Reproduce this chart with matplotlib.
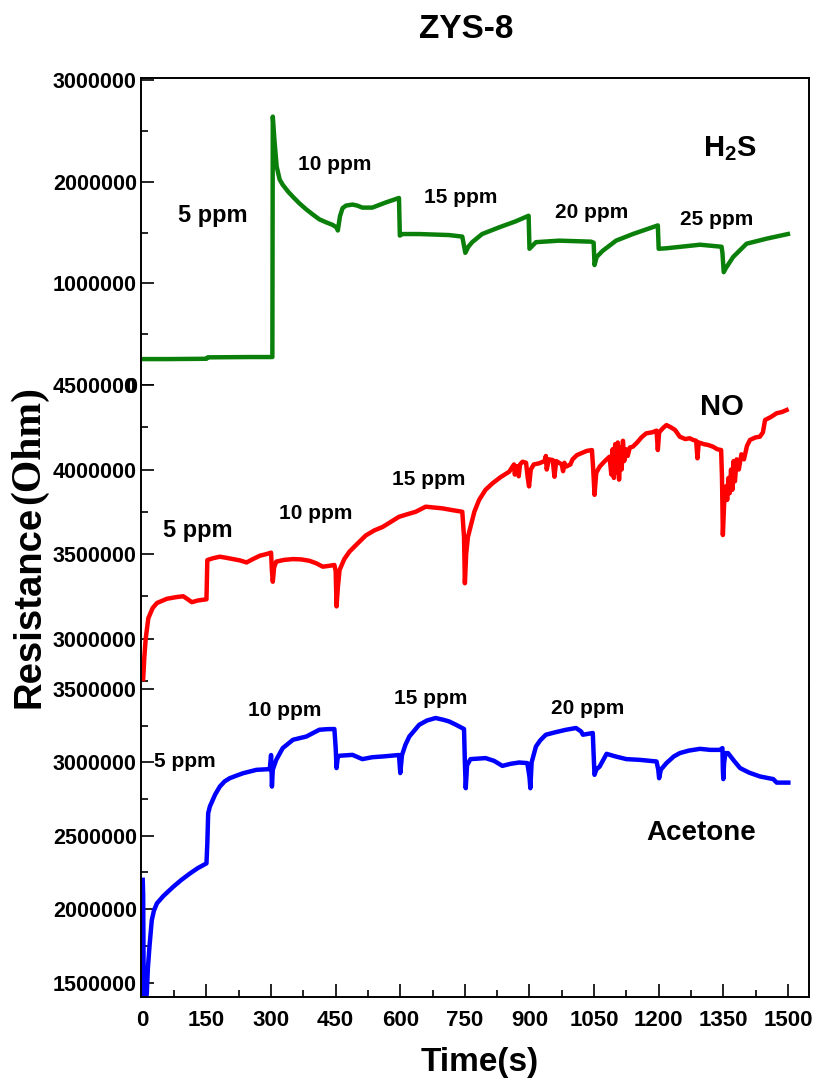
import matplotlib
matplotlib.use("Agg")
import matplotlib.pyplot as plt
from matplotlib.ticker import MultipleLocator

plt.rcParams['font.family'] = ['Liberation Sans', 'DejaVu Sans']
plt.rcParams['font.weight'] = 'bold'
plt.rcParams['mathtext.fontset'] = 'custom'
plt.rcParams['mathtext.sf'] = 'Liberation Sans:bold'

# H2S response (time in s, resistance in MOhm)
h2s_t = [5, 60, 150, 153, 250, 303, 304, 308, 313, 320, 327, 340, 351, 365, 381, 396,
         412, 428, 443, 452, 455, 460, 466, 474, 489, 500, 512, 535, 566, 597, 599, 605,
         644, 713, 744, 751, 758, 767, 790, 829, 868, 898, 900, 915, 969, 1043, 1049, 1051,
         1056, 1070, 1101, 1140, 1198, 1200, 1218, 1296, 1346, 1348, 1351, 1356, 1373, 1404,
         1451, 1500]
h2s_r = [0.255, 0.255, 0.258, 0.272, 0.275, 0.275, 2.64, 2.40, 2.15, 2.02, 1.97, 1.90, 1.85,
         1.79, 1.73, 1.68, 1.63, 1.60, 1.575, 1.55, 1.52, 1.66, 1.74, 1.765, 1.775, 1.765,
         1.745, 1.745, 1.795, 1.84, 1.47, 1.485, 1.485, 1.475, 1.46, 1.30, 1.36, 1.405, 1.485,
         1.55, 1.61, 1.665, 1.34, 1.405, 1.42, 1.41, 1.40, 1.18, 1.26, 1.32, 1.42, 1.485, 1.57,
         1.34, 1.345, 1.38, 1.36, 1.30, 1.11, 1.15, 1.26, 1.39, 1.44, 1.485]

# NO response
no_t = [3, 6, 9, 15, 25, 35, 58, 80, 96, 105, 116, 130, 150, 152, 165, 181, 195, 212, 228,
        243, 258, 274, 290, 300, 302, 304, 307, 312, 330, 351, 370, 389, 405, 420, 435, 447,
        450, 452, 455, 459, 470, 482, 500, 520, 540, 559, 578, 597, 616, 636, 659, 678, 698,
        720, 744, 748, 750, 753, 757, 763, 772, 783, 798, 814, 833, 853, 864, 866, 870, 875,
        878, 884, 892, 896, 899, 903, 910, 923, 935, 938, 940, 945, 954, 958, 962, 975, 978,
        981, 985, 995, 1000, 1010, 1020, 1033, 1045, 1048, 1051, 1055, 1063, 1075, 1086, 1090,
        1093, 1096, 1099, 1102, 1105, 1108, 1111, 1114, 1117, 1120, 1124, 1128, 1133, 1140,
        1150, 1160, 1171, 1185, 1195, 1198, 1201, 1210, 1218, 1228, 1238, 1249, 1262, 1272,
        1280, 1287, 1290, 1293, 1305, 1315, 1326, 1336, 1345, 1347, 1349, 1352, 1356, 1359,
        1362, 1365, 1368, 1371, 1374, 1377, 1381, 1386, 1392, 1398, 1405, 1412, 1425, 1435,
        1442, 1447, 1460, 1474, 1486, 1497]
no_r = [2.76, 2.90, 3.00, 3.12, 3.18, 3.21, 3.235, 3.245, 3.25, 3.235, 3.215, 3.225, 3.232,
        3.464, 3.475, 3.484, 3.478, 3.47, 3.462, 3.45, 3.47, 3.49, 3.50, 3.508, 3.40, 3.336,
        3.42, 3.455, 3.465, 3.47, 3.468, 3.46, 3.445, 3.425, 3.43, 3.435, 3.40, 3.19, 3.30,
        3.405, 3.47, 3.514, 3.56, 3.61, 3.64, 3.66, 3.69, 3.72, 3.735, 3.75, 3.78, 3.775, 3.77,
        3.76, 3.75, 3.60, 3.327, 3.50, 3.60, 3.66, 3.75, 3.82, 3.88, 3.918, 3.955, 3.987,
        4.03, 3.97, 4.02, 3.96, 4.03, 4.046, 4.04, 3.95, 3.90, 4.00, 4.03, 4.037, 4.05, 4.08,
        4.00, 4.06, 4.056, 3.957, 4.05, 4.03, 3.99, 4.04, 4.017, 4.03, 4.06, 4.085, 4.096,
        4.11, 4.115, 4.00, 3.85, 3.98, 4.017, 4.05, 4.076, 3.97, 4.12, 3.95, 4.15, 3.98, 4.16,
        3.94, 4.13, 4.00, 4.17, 4.05, 4.12, 4.08, 4.13, 4.135, 4.16, 4.19, 4.214, 4.22, 4.23,
        4.115, 4.22, 4.245, 4.263, 4.25, 4.234, 4.194, 4.18, 4.185, 4.175, 4.17, 4.066, 4.16,
        4.15, 4.145, 4.135, 4.12, 4.115, 3.95, 3.612, 3.80, 3.90, 3.82, 3.95, 3.86, 4.00,
        3.88, 4.05, 3.93, 4.06, 4.00, 4.09, 4.06, 4.14, 4.175, 4.19, 4.194, 4.22, 4.293, 4.31,
        4.333, 4.34, 4.352]

# Acetone response
ace_t = [2, 3, 4, 5, 7, 11.5, 14, 17.6, 23, 28, 35, 50, 73, 92, 112, 130, 150, 152, 154, 158,
         170, 181, 192, 204, 220, 235, 266, 297, 300, 301, 302, 304, 312, 327, 351, 382, 412,
         430, 447, 450, 452, 455, 459, 489, 512, 535, 559, 597, 600, 604, 612, 621, 644, 662,
         682, 700, 713, 730, 748, 750, 752, 755, 763, 798, 818, 837, 856, 876, 895, 900, 902,
         905, 915, 925, 938, 960, 985, 1008, 1020, 1024, 1047, 1049, 1051, 1055, 1063, 1079,
         1100, 1125, 1156, 1195, 1199, 1201, 1205, 1218, 1235, 1249, 1270, 1296, 1320, 1342,
         1348, 1349, 1350, 1352, 1355, 1361, 1375, 1389, 1410, 1435, 1466, 1474, 1501]
ace_r = [2.20, 2.10, 1.60, 1.30, 1.30, 1.43, 1.60, 1.743, 1.925, 1.99, 2.04, 2.09, 2.153,
         2.20, 2.244, 2.28, 2.312, 2.45, 2.654, 2.70, 2.78, 2.835, 2.87, 2.892, 2.91, 2.926,
         2.949, 2.954, 3.05, 2.96, 2.835, 2.95, 3.017, 3.097, 3.154, 3.176, 3.222, 3.226,
         3.227, 3.10, 2.961, 3.04, 3.045, 3.051, 3.022, 3.035, 3.04, 3.05, 2.927, 3.05, 3.12,
         3.176, 3.256, 3.285, 3.302, 3.29, 3.279, 3.255, 3.227, 3.00, 2.824, 2.98, 3.022,
         3.029, 3.01, 2.976, 2.99, 2.999, 2.995, 2.90, 2.824, 3.00, 3.108, 3.15, 3.188, 3.205,
         3.222, 3.234, 3.21, 3.188, 3.2, 3.05, 2.915, 2.95, 2.972, 3.058, 3.04, 3.022, 3.017,
         3.006, 2.95, 2.892, 2.95, 2.995, 3.04, 3.063, 3.08, 3.092, 3.085, 3.085, 3.097, 2.95,
         2.886, 3.00, 3.063, 3.063, 3.01, 2.961, 2.93, 2.904, 2.886, 2.862, 2.862]

x_ticks = [0, 150, 300, 450, 600, 750, 900, 1050, 1200, 1350, 1500]
h2s_ticks = [0, 1000000, 2000000, 3000000]
no_ticks = [3000000, 3500000, 4000000, 4500000]
ace_ticks = [1500000, 2000000, 2500000, 3000000, 3500000]

h2s_labels = [(165, 1.67e6, "5 ppm", 17), (447, 2.17e6, "10 ppm", 15),
              (740, 1.84e6, "15 ppm", 15), (1045, 1.70e6, "20 ppm", 15),
              (1334, 1.63e6, "25 ppm", 15)]
no_labels = [(130, 3.64e6, "5 ppm", 17), (403, 3.737e6, "10 ppm", 15),
             (667, 3.938e6, "15 ppm", 15)]
ace_labels = [(100, 3.004e6, "5 ppm", 15), (331, 3.352e6, "10 ppm", 15),
              (671, 3.434e6, "15 ppm", 15), (1036, 3.366e6, "20 ppm", 15)]

fig = plt.figure(figsize=(8.17, 10.8), dpi=100)
left, width = 141 / 817, 668 / 817
ax1 = fig.add_axes([left, 1 - 385 / 1080, width, 307 / 1080])
ax2 = fig.add_axes([left, 1 - 686 / 1080, width, 301 / 1080])
ax3 = fig.add_axes([left, 1 - 997 / 1080, width, 311 / 1080])

ax1.plot(h2s_t, [r * 1e6 for r in h2s_r], color='#0a800a', lw=3.2)
ax2.plot(no_t, [r * 1e6 for r in no_r], color='#ff0000', lw=3.2)
ax3.plot(ace_t, [r * 1e6 for r in ace_r], color='#0000ff', lw=3.2)

ax1.set_ylim(0, 3.02e6)
ax2.set_ylim(2.719e6, 4.5e6)
ax3.set_ylim(1.402e6, 3.52e6)

for ax, ticks, minor in [(ax1, h2s_ticks, 500000), (ax2, no_ticks, 250000),
                         (ax3, ace_ticks, 250000)]:
    ax.set_xlim(-2, 1549)
    ax.set_yticks(ticks)
    ax.set_yticklabels([str(v) for v in ticks])
    ax.yaxis.set_minor_locator(MultipleLocator(minor))
    ax.tick_params(axis='y', which='major', direction='in', length=9.5, width=1.2,
                   labelsize=15.5, pad=3)
    ax.tick_params(axis='y', which='minor', direction='in', length=5, width=1.2)
    for s in ax.spines.values():
        s.set_linewidth(1.4)

ax1.spines['bottom'].set_visible(False)
ax2.spines['top'].set_visible(False)
ax2.spines['bottom'].set_visible(False)
ax3.spines['top'].set_visible(False)
for ax in (ax1, ax2):
    ax.tick_params(axis='x', which='both', bottom=False, labelbottom=False)

ax3.set_xticks(x_ticks)
ax3.xaxis.set_minor_locator(MultipleLocator(75))
ax3.tick_params(axis='x', which='major', direction='in', length=9.5, width=1.2,
                labelsize=16, pad=9)
ax3.tick_params(axis='x', which='minor', direction='in', length=5, width=1.2)

for ax, labels in [(ax1, h2s_labels), (ax2, no_labels), (ax3, ace_labels)]:
    for x, y, s, fs in labels:
        ax.text(x, y, s, ha='center', va='center', fontsize=fs, fontweight='bold')

ax1.text(1365, 2.33e6, r"H$_\mathsf{2}$S", ha='center', va='center', fontsize=21,
         fontweight='bold')
ax2.text(1348, 4.372e6, "NO", ha='center', va='center', fontsize=21, fontweight='bold')
ax3.text(1298, 2.519e6, "Acetone", ha='center', va='center', fontsize=20, fontweight='bold')

fig.text(466 / 817, 1 - 30 / 1080, "ZYS-8", ha='center', va='center', fontsize=24,
         fontweight='bold')
fig.text(480 / 817, 1 - 1062 / 1080, "Time(s)", ha='center', va='center', fontsize=24,
         fontweight='bold')

# y label: sans part below, serif unit above
fig.text(30 / 817, 1 - 708 / 1080, "Resistance", rotation=90, ha='center', va='bottom',
         fontsize=27.5, fontweight='bold')
fig.text(29 / 817, 1 - 386 / 1080, "(Ohm)", rotation=90, ha='center', va='top',
         fontsize=30, fontweight='bold', family='Liberation Serif')

fig.savefig("out.png", dpi=100)
